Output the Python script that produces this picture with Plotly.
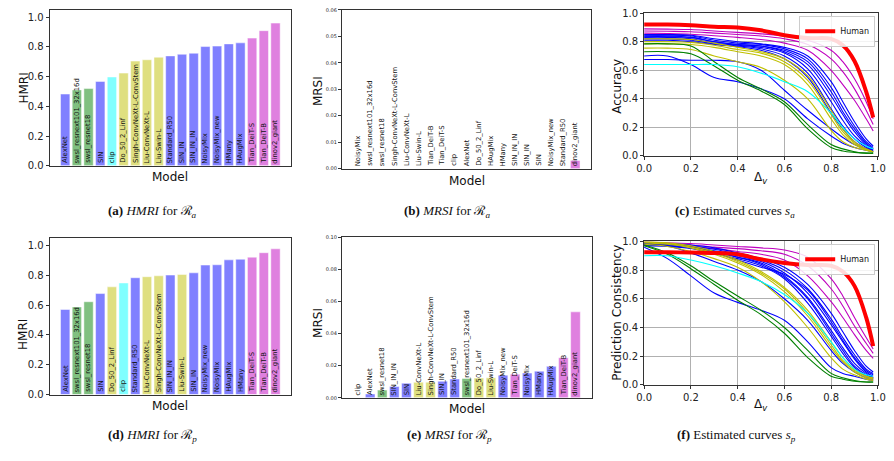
import plotly.graph_objects as go

# ---------------- data ----------------
GROUP = {
    "AlexNet": "b", "SIN": "b", "Standard_R50": "b", "SIN_IN": "b", "SIN_IN_IN": "b",
    "NoisyMix": "b", "NoisyMix_new": "b", "HMany": "b", "HAugMix": "b",
    "swsl_resnext101_32x16d": "g", "swsl_resnet18": "g",
    "Do_50_2_Linf": "y", "Singh-ConvNeXt-L-ConvStem": "y", "Liu-ConvNeXt-L": "y", "Liu-Swin-L": "y",
    "clip": "c",
    "Tian_DeiT-S": "m", "Tian_DeiT-B": "m", "dinov2_giant": "m",
}

# (a) HMRI for R_a
hmri_a_models = ["AlexNet", "swsl_resnext101_32x16d", "swsl_resnet18", "SIN", "clip", "Do_50_2_Linf",
                 "Singh-ConvNeXt-L-ConvStem", "Liu-ConvNeXt-L", "Liu-Swin-L", "Standard_R50", "SIN_IN",
                 "SIN_IN_IN", "NoisyMix", "NoisyMix_new", "HMany", "HAugMix", "Tian_DeiT-S", "Tian_DeiT-B",
                 "dinov2_giant"]
hmri_a_values = [0.483, 0.511, 0.520, 0.568, 0.598, 0.624, 0.705, 0.714, 0.731, 0.740, 0.751,
                 0.758, 0.803, 0.806, 0.821, 0.828, 0.860, 0.910, 0.961]

# (b) MRSI for R_a
mrsi_a_models = ["NoisyMix", "swsl_resnext101_32x16d", "swsl_resnet18", "Singh-ConvNeXt-L-ConvStem",
                 "Liu-ConvNeXt-L", "Liu-Swin-L", "Tian_DeiT-B", "Tian_DeiT-S", "clip", "AlexNet",
                 "Do_50_2_Linf", "HAugMix", "HMany", "SIN_IN_IN", "SIN_IN", "SIN", "NoisyMix_new",
                 "Standard_R50", "dinov2_giant"]
mrsi_a_values = [0, 0, 0, 0, 0, 0, 0, 0, 0, 0, 0, 0, 0, 0, 0, 0, 0, 0, 0.0031]

# (d) HMRI for R_p
hmri_p_models = ["AlexNet", "swsl_resnext101_32x16d", "swsl_resnet18", "SIN", "Do_50_2_Linf", "clip",
                 "Standard_R50", "Liu-ConvNeXt-L", "Singh-ConvNeXt-L-ConvStem", "SIN_IN_IN", "Liu-Swin-L",
                 "SIN_IN", "NoisyMix_new", "NoisyMix", "HAugMix", "HMany", "Tian_DeiT-S", "Tian_DeiT-B",
                 "dinov2_giant"]
hmri_p_values = [0.571, 0.588, 0.623, 0.678, 0.723, 0.749, 0.784, 0.791, 0.797, 0.802, 0.806,
                 0.817, 0.869, 0.871, 0.904, 0.908, 0.922, 0.952, 0.978]

# (e) MRSI for R_p
mrsi_p_models = ["clip", "AlexNet", "swsl_resnet18", "SIN_IN_IN", "SIN", "Liu-ConvNeXt-L",
                 "Singh-ConvNeXt-L-ConvStem", "SIN_IN", "Standard_R50", "swsl_resnext101_32x16d",
                 "Do_50_2_Linf", "Liu-Swin-L", "NoisyMix_new", "Tian_DeiT-S", "NoisyMix", "HMany",
                 "HAugMix", "Tian_DeiT-B", "dinov2_giant"]
mrsi_p_values = [0.0, 0.0024, 0.0048, 0.0071, 0.0091, 0.0097, 0.0097, 0.0103, 0.0117, 0.0121,
                 0.0123, 0.0125, 0.0141, 0.0147, 0.0154, 0.0166, 0.0196, 0.0250, 0.0535]

# (c),(f) estimated curves
delta_v = [0, 0.1, 0.2, 0.3, 0.4, 0.5, 0.6, 0.7, 0.8, 0.85, 0.9, 0.95, 0.98]

human_acc = [0.92, 0.92, 0.915, 0.905, 0.90, 0.88, 0.845, 0.825, 0.82, 0.775, 0.665, 0.45, 0.27]
human_cons = [0.925, 0.925, 0.922, 0.92, 0.91, 0.875, 0.85, 0.835, 0.83, 0.79, 0.69, 0.47, 0.27]

acc_curves = {
    "dinov2_giant":  [0.89, 0.888, 0.885, 0.875, 0.865, 0.855, 0.84, 0.81, 0.74, 0.66, 0.54, 0.38, 0.26],
    "Tian_DeiT-B":   [0.875, 0.873, 0.87, 0.86, 0.85, 0.84, 0.82, 0.78, 0.68, 0.59, 0.47, 0.32, 0.22],
    "Tian_DeiT-S":   [0.86, 0.857, 0.852, 0.842, 0.83, 0.815, 0.79, 0.74, 0.60, 0.50, 0.39, 0.26, 0.175],
    "HAugMix":       [0.85, 0.85, 0.845, 0.82, 0.80, 0.785, 0.76, 0.70, 0.52, 0.38, 0.24, 0.12, 0.07],
    "HMany":         [0.845, 0.845, 0.84, 0.81, 0.79, 0.78, 0.75, 0.68, 0.48, 0.34, 0.21, 0.10, 0.06],
    "NoisyMix_new":  [0.84, 0.84, 0.83, 0.80, 0.78, 0.77, 0.73, 0.64, 0.42, 0.29, 0.17, 0.08, 0.05],
    "NoisyMix":      [0.835, 0.835, 0.83, 0.80, 0.78, 0.77, 0.74, 0.66, 0.45, 0.31, 0.19, 0.09, 0.05],
    "SIN_IN_IN":     [0.83, 0.83, 0.82, 0.79, 0.775, 0.76, 0.72, 0.61, 0.38, 0.25, 0.14, 0.07, 0.04],
    "SIN_IN":        [0.82, 0.82, 0.81, 0.785, 0.77, 0.75, 0.70, 0.58, 0.33, 0.21, 0.12, 0.06, 0.04],
    "Standard_R50":  [0.81, 0.81, 0.80, 0.78, 0.765, 0.74, 0.68, 0.55, 0.30, 0.19, 0.10, 0.05, 0.03],
    "SIN":           [0.675, 0.675, 0.67, 0.67, 0.66, 0.60, 0.46, 0.32, 0.19, 0.13, 0.08, 0.05, 0.04],
    "AlexNet":       [0.70, 0.70, 0.64, 0.55, 0.52, 0.47, 0.40, 0.26, 0.14, 0.09, 0.06, 0.04, 0.03],
    "Liu-Swin-L":    [0.82, 0.82, 0.815, 0.79, 0.76, 0.73, 0.68, 0.56, 0.32, 0.19, 0.10, 0.05, 0.03],
    "Liu-ConvNeXt-L": [0.80, 0.80, 0.795, 0.775, 0.745, 0.72, 0.66, 0.53, 0.29, 0.17, 0.09, 0.045, 0.03],
    "Singh-ConvNeXt-L-ConvStem": [0.785, 0.785, 0.78, 0.76, 0.73, 0.70, 0.64, 0.50, 0.26, 0.15, 0.08, 0.04, 0.03],
    "Do_50_2_Linf":  [0.755, 0.755, 0.745, 0.70, 0.66, 0.62, 0.53, 0.40, 0.18, 0.10, 0.06, 0.04, 0.03],
    "swsl_resnet18": [0.785, 0.785, 0.77, 0.66, 0.55, 0.47, 0.38, 0.22, 0.08, 0.05, 0.03, 0.02, 0.02],
    "swsl_resnext101_32x16d": [0.73, 0.73, 0.715, 0.63, 0.53, 0.455, 0.36, 0.19, 0.06, 0.035, 0.025, 0.02, 0.02],
    "clip":          [0.64, 0.64, 0.64, 0.64, 0.625, 0.58, 0.52, 0.45, 0.30, 0.20, 0.12, 0.07, 0.05],
}

cons_curves = {
    "dinov2_giant":  [0.995, 0.99, 0.985, 0.975, 0.965, 0.955, 0.94, 0.89, 0.74, 0.62, 0.47, 0.33, 0.25],
    "Tian_DeiT-B":   [0.99, 0.985, 0.975, 0.96, 0.95, 0.935, 0.91, 0.83, 0.67, 0.55, 0.41, 0.29, 0.22],
    "Tian_DeiT-S":   [0.985, 0.98, 0.965, 0.95, 0.93, 0.91, 0.87, 0.76, 0.58, 0.47, 0.35, 0.24, 0.185],
    "HAugMix":       [0.99, 0.985, 0.975, 0.955, 0.92, 0.88, 0.82, 0.70, 0.50, 0.37, 0.24, 0.13, 0.09],
    "HMany":         [0.985, 0.98, 0.97, 0.945, 0.91, 0.87, 0.80, 0.67, 0.46, 0.33, 0.21, 0.11, 0.08],
    "NoisyMix_new":  [0.98, 0.975, 0.96, 0.935, 0.90, 0.86, 0.78, 0.64, 0.42, 0.30, 0.18, 0.09, 0.06],
    "NoisyMix":      [0.98, 0.97, 0.955, 0.92, 0.87, 0.82, 0.77, 0.66, 0.44, 0.31, 0.19, 0.10, 0.07],
    "SIN_IN_IN":     [0.975, 0.97, 0.955, 0.925, 0.89, 0.85, 0.76, 0.61, 0.38, 0.26, 0.15, 0.08, 0.05],
    "SIN_IN":        [0.97, 0.965, 0.95, 0.915, 0.88, 0.83, 0.74, 0.57, 0.34, 0.22, 0.12, 0.06, 0.04],
    "Standard_R50":  [0.99, 0.98, 0.96, 0.93, 0.89, 0.84, 0.75, 0.60, 0.36, 0.24, 0.13, 0.07, 0.05],
    "SIN":           [0.99, 0.97, 0.92, 0.86, 0.80, 0.72, 0.60, 0.45, 0.24, 0.15, 0.09, 0.05, 0.04],
    "AlexNet":       [0.96, 0.88, 0.76, 0.64, 0.575, 0.52, 0.45, 0.30, 0.12, 0.08, 0.06, 0.04, 0.03],
    "Liu-Swin-L":    [1.0, 0.99, 0.97, 0.93, 0.87, 0.79, 0.68, 0.52, 0.30, 0.19, 0.11, 0.06, 0.05],
    "Liu-ConvNeXt-L": [0.995, 0.985, 0.96, 0.92, 0.86, 0.78, 0.67, 0.50, 0.28, 0.17, 0.10, 0.06, 0.04],
    "Singh-ConvNeXt-L-ConvStem": [0.99, 0.98, 0.955, 0.91, 0.85, 0.77, 0.65, 0.48, 0.26, 0.16, 0.09, 0.05, 0.04],
    "Do_50_2_Linf":  [0.98, 0.965, 0.93, 0.88, 0.82, 0.72, 0.58, 0.40, 0.19, 0.11, 0.07, 0.04, 0.03],
    "swsl_resnet18": [0.975, 0.92, 0.83, 0.72, 0.62, 0.52, 0.40, 0.24, 0.08, 0.05, 0.03, 0.02, 0.02],
    "swsl_resnext101_32x16d": [0.97, 0.91, 0.81, 0.70, 0.59, 0.49, 0.36, 0.19, 0.06, 0.04, 0.025, 0.02, 0.02],
    "clip":          [0.90, 0.90, 0.87, 0.83, 0.78, 0.72, 0.63, 0.50, 0.30, 0.19, 0.11, 0.07, 0.06],
}

# ---------------- styling ----------------
BAR_COL = {"b": "#8080ff", "g": "#80c080", "y": "#dfdf80", "c": "#80ffff", "m": "#df80df"}
LINE_COL = {"b": "#0000ff", "g": "#008000", "y": "#bfbf00", "c": "#00ffff", "m": "#bf00bf"}
W, H = 894, 461
FONT = "DejaVu Sans"

def xd(x0, x1):
    return [x0 / W, x1 / W]

def yd(top, bottom):
    return [(H - bottom) / H, (H - top) / H]

fig = go.Figure()
annotations = []

frame = dict(showline=True, mirror=True, linecolor="#333333", linewidth=1,
             ticks="outside", ticklen=3, tickcolor="#333333", zeroline=False)

def bar_panel(idx, models, values, ydom, xdom, yrange, dtick, tickfmt, tickfs):
    xa = "x" if idx == 1 else f"x{idx}"
    ya = "y" if idx == 1 else f"y{idx}"
    fig.add_trace(go.Bar(x=models, y=values, width=0.8,
                         marker=dict(color=[BAR_COL[GROUP[m]] for m in models],
                                     line=dict(color="rgba(255,255,255,0.8)", width=0.6)),
                         xaxis=xa, yaxis=ya, showlegend=False, hoverinfo="skip"))
    fig.layout[f"xaxis{'' if idx == 1 else idx}"] = dict(
        domain=xdom, anchor=ya, type="category", range=[-1.34, len(models) - 1 + 1.34],
        showticklabels=False, **{**frame, "ticks": ""})
    fig.layout[f"yaxis{'' if idx == 1 else idx}"] = dict(
        domain=ydom, anchor=xa, range=yrange, dtick=dtick, tick0=0, tickformat=tickfmt,
        tickfont=dict(size=tickfs, color="#222"), showgrid=False, **frame)
    for m in models:
        annotations.append(dict(x=m, y=0, xref=xa, yref=ya, text=m, textangle=-90,
                                xanchor="center", yanchor="bottom", showarrow=False,
                                borderpad=0, yshift=1.5,
                                font=dict(size=6.8, color="#111", family=FONT)))

def curve_panel(idx, curves, human, ydom, xdom, legend):
    xa = f"x{idx}"
    ya = f"y{idx}"
    for m, vals in curves.items():
        fig.add_trace(go.Scatter(x=delta_v, y=vals, mode="lines",
                                 line=dict(color=LINE_COL[GROUP[m]], width=1.1, shape="spline"),
                                 xaxis=xa, yaxis=ya, showlegend=False, name=m))
    fig.add_trace(go.Scatter(x=delta_v, y=human, mode="lines", name="Human",
                             line=dict(color="#ff0000", width=4, shape="spline"),
                             xaxis=xa, yaxis=ya, showlegend=True, legend=legend))
    fig.layout[f"xaxis{idx}"] = dict(domain=xdom, anchor=ya, range=[0, 1], dtick=0.2, tick0=0,
                                     tickformat=".1f", tickfont=dict(size=10, color="#222"),
                                     showgrid=True, gridcolor="#b0b0b0", gridwidth=0.8, **frame)
    fig.layout[f"yaxis{idx}"] = dict(domain=ydom, anchor=xa, range=[0, 1], dtick=0.2, tick0=0,
                                     tickformat=".1f", tickfont=dict(size=10, color="#222"),
                                     showgrid=True, gridcolor="#b0b0b0", gridwidth=0.8, **frame)

bar_panel(1, hmri_a_models, hmri_a_values, yd(4, 164), xd(42.3, 288.3), [0, 1.05], 0.2, ".1f", 10)
bar_panel(2, mrsi_a_models, mrsi_a_values, yd(4, 167), xd(340, 594), [0, 0.06], 0.01, ".2f", 5)
curve_panel(3, acc_curves, human_acc, yd(7.3, 154), xd(647.7, 885.7), "legend")
bar_panel(4, hmri_p_models, hmri_p_values, yd(238.3, 399), xd(42.3, 288.3), [0, 1.05], 0.2, ".1f", 10)
bar_panel(5, mrsi_p_models, mrsi_p_values, yd(237.3, 402.3), xd(340, 594.3), [0, 0.10], 0.02, ".2f", 5)
curve_panel(6, cons_curves, human_cons, yd(241.7, 389), xd(647.7, 885.7), "legend2")

def paper_text(x, y, text, size, angle=0, family=FONT):
    annotations.append(dict(x=x / W, y=(H - y) / H, xref="paper", yref="paper", text=text,
                            textangle=angle, showarrow=False, xanchor="center", yanchor="middle",
                            font=dict(size=size, color="#111", family=family)))

# axis titles
paper_text(16, 84, "HMRI", 12, -90)
paper_text(165, 176, "Model", 12)
paper_text(315, 87, "MRSI", 12, -90)
paper_text(467, 180, "Model", 12)
paper_text(620, 82, "Accuracy", 12, -90)
paper_text(767, 177, "Δ<sub><i>v</i></sub>", 12)
paper_text(16, 337, "HMRI", 12, -90)
paper_text(165, 411, "Model", 12)
paper_text(315, 325, "MRSI", 12, -90)
paper_text(467, 414, "Model", 12)
paper_text(620, 315, "Prediction Consistency", 12, -90)
paper_text(767, 410, "Δ<sub><i>v</i></sub>", 12)

# captions
SERIF = "Liberation Serif"
paper_text(147, 211, "<b>(a)</b> <i>HMRI</i> for ℛ<sub><i>a</i></sub>", 13, family=SERIF)
paper_text(447, 211, "<b>(b)</b> <i>MRSI</i> for ℛ<sub><i>a</i></sub>", 13, family=SERIF)
paper_text(740, 211, "<b>(c)</b> Estimated curves <i>s</i><sub><i>a</i></sub>", 13, family=SERIF)
paper_text(147, 441, "<b>(d)</b> <i>HMRI</i> for ℛ<sub><i>p</i></sub>", 13, family=SERIF)
paper_text(450, 441, "<b>(e)</b> <i>MRSI</i> for ℛ<sub><i>p</i></sub>", 13, family=SERIF)
paper_text(742, 441, "<b>(f)</b> Estimated curves <i>s</i><sub><i>p</i></sub>", 13, family=SERIF)

leg = dict(xanchor="right", yanchor="top", bgcolor="rgba(255,255,255,0.85)",
           bordercolor="#cccccc", borderwidth=1, font=dict(size=8, family=FONT, color="#111"),
           itemwidth=30, tracegroupgap=0)
fig.update_layout(
    width=W, height=H, margin=dict(l=0, r=0, t=0, b=0),
    paper_bgcolor="white", plot_bgcolor="white",
    font=dict(family=FONT, color="#111"),
    annotations=annotations,
    legend=dict(x=883 / W, y=(H - 10) / H, **leg),
    legend2=dict(x=883 / W, y=(H - 244) / H, **leg),
    bargap=0.2,
)

fig.write_html("out.html", config={"displayModeBar": False},
               post_script="document.body.style.margin='0';document.body.style.padding='0';"
                           "document.body.style.overflow='hidden';")
